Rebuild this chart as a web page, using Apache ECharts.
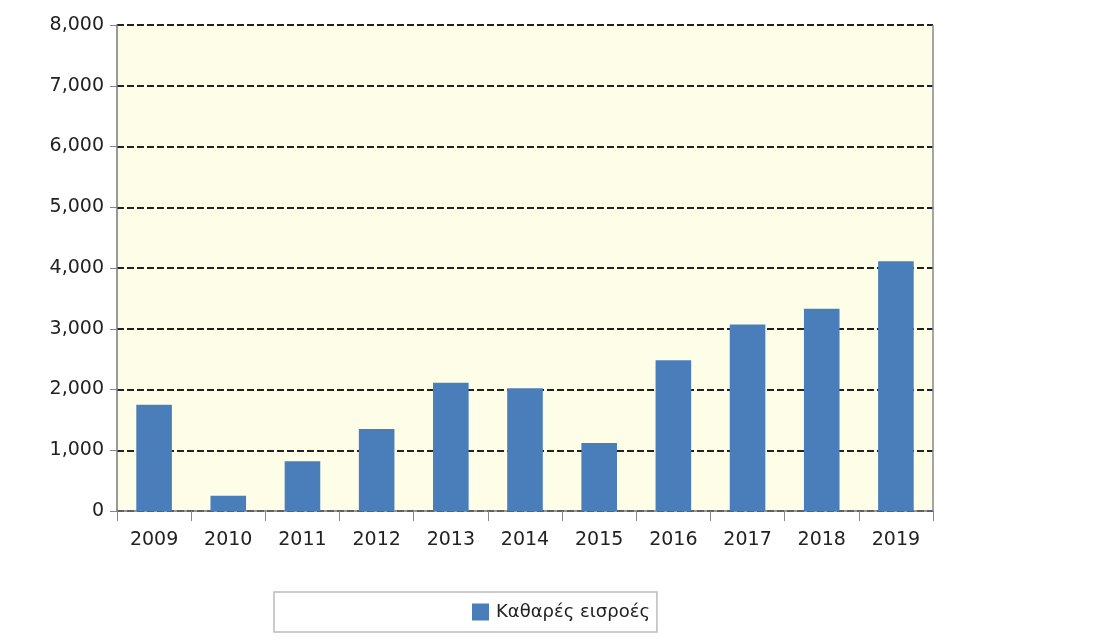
<!DOCTYPE html>
<html><head><meta charset="utf-8">
<script src="https://cdn.jsdelivr.net/npm/echarts@6/dist/echarts.min.js"></script>
<style>html,body{margin:0;padding:0;background:#fff}#c{width:1107px;height:643px}</style>
</head><body><div id="c"></div>
<script>
const categories = ['2009','2010','2011','2012','2013','2014','2015','2016','2017','2018','2019'];
const inflows = [1750, 250, 820, 1350, 2110, 2020, 1120, 2480, 3070, 3330, 4110];
const seriesName = 'Καθαρές εισροές';

const chart = echarts.init(document.getElementById('c'));
chart.setOption({
  animation: false,
  textStyle: {fontFamily: 'DejaVu Sans, sans-serif'},
  grid: {left: 117, right: 174, top: 25, bottom: 132, backgroundColor: '#fefee8', show: true, borderWidth: 0},
  legend: {
    left: 274, top: 592,
    padding: [11, 7, 11, 198],
    borderColor: '#bbbbbb', borderWidth: 1.5,
    icon: 'rect', itemWidth: 17, itemHeight: 17, itemGap: 4,
    textStyle: {fontSize: 18, color: '#222', padding: [0, 0, 0, 2]},
    data: [seriesName]
  },
  xAxis: {
    type: 'category', data: categories,
    axisLine: {lineStyle: {color: '#777', width: 1.5}},
    axisTick: {show: true, length: 10, lineStyle: {color: '#888'}},
    axisLabel: {fontSize: 19, color: '#222', margin: 20}
  },
  yAxis: {
    type: 'value', min: 0, max: 8000, interval: 1000,
    axisLine: {show: true, lineStyle: {color: '#777', width: 1.5}},
    axisTick: {show: true, length: 7, lineStyle: {color: '#888'}},
    axisLabel: {fontSize: 19, color: '#222', margin: 13,
      formatter: v => v.toLocaleString('en-US')},
    splitLine: {show: true, lineStyle: {color: '#222', type: [7, 3], width: 2}}
  },
  graphic: [{
    type: 'line', shape: {x1: 933, y1: 25, x2: 933, y2: 511},
    style: {stroke: '#888', lineWidth: 1.5}, z: 10
  }],
  series: [{
    name: seriesName, type: 'bar', data: inflows,
    barWidth: '48%',
    itemStyle: {color: '#4a7ebb'}
  }]
});
</script></body></html>
